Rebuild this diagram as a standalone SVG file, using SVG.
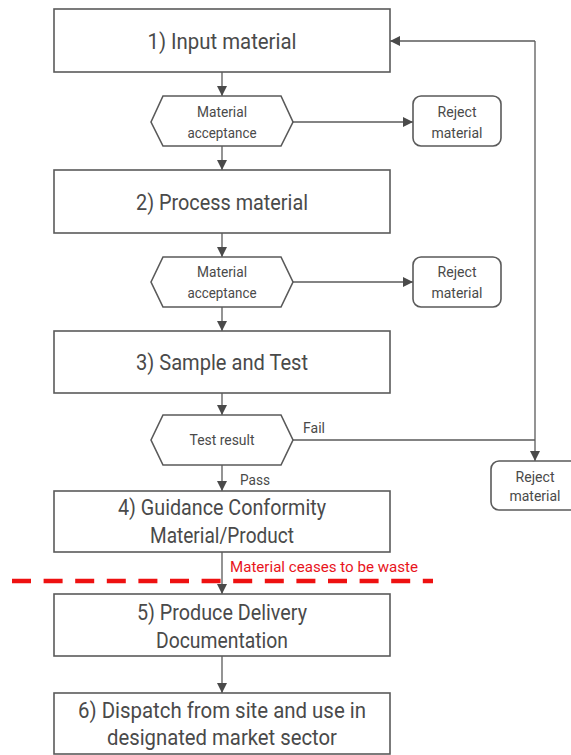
<svg xmlns="http://www.w3.org/2000/svg" width="571" height="755" viewBox="0 0 571 755">
<defs>
<style>
.box{fill:#fff;stroke:#5a5a5a;stroke-width:1.6}
.rej{fill:#fff;stroke:#5a5a5a;stroke-width:1.6}
.big{font-family:Roboto,"Liberation Sans",sans-serif;font-size:22px;fill:#4a4a4a;text-anchor:middle}
.sm{font-family:Roboto,"Liberation Sans",sans-serif;font-size:14.5px;fill:#4a4a4a;text-anchor:middle}
.lbl{font-family:Roboto,"Liberation Sans",sans-serif;font-size:15px;fill:#4a4a4a}
.red{font-family:Roboto,"Liberation Sans",sans-serif;font-size:15.5px;fill:#e8141c}
.con{fill:none;stroke:#5a5a5a;stroke-width:1.3}
</style>
<marker id="ah" viewBox="0 0 10 10" refX="10" refY="5" markerWidth="10" markerHeight="10" markerUnits="userSpaceOnUse" orient="auto">
<path d="M0,0 L10,5 L0,10 z" fill="#4a4a4a"/>
</marker>
</defs>

<g id="connectors">
<line class="con" x1="222" y1="72" x2="222" y2="96" marker-end="url(#ah)"/>
<line class="con" x1="222" y1="146" x2="222" y2="170" marker-end="url(#ah)"/>
<line class="con" x1="222" y1="233" x2="222" y2="257" marker-end="url(#ah)"/>
<line class="con" x1="222" y1="307" x2="222" y2="331" marker-end="url(#ah)"/>
<line class="con" x1="222" y1="393" x2="222" y2="415" marker-end="url(#ah)"/>
<line class="con" x1="222" y1="465" x2="222" y2="491" marker-end="url(#ah)"/>
<line class="con" x1="222" y1="552" x2="222" y2="594" marker-end="url(#ah)"/>
<line class="con" x1="222" y1="656" x2="222" y2="693" marker-end="url(#ah)"/>
<line class="con" x1="293" y1="122" x2="413" y2="122" marker-end="url(#ah)"/>
<line class="con" x1="293" y1="282" x2="413" y2="282" marker-end="url(#ah)"/>
<polyline class="con" points="293,440 535,440"/>
<line class="con" x1="535" y1="41" x2="535" y2="461" marker-end="url(#ah)"/>
<line class="con" x1="535" y1="41" x2="390" y2="41" marker-end="url(#ah)"/>
<text class="lbl" x="303" y="433" textLength="22" lengthAdjust="spacingAndGlyphs">Fail</text>
<text class="lbl" x="240" y="485" textLength="30" lengthAdjust="spacingAndGlyphs">Pass</text>
</g>

<g id="n1"><rect class="box" x="54" y="9" width="336" height="63"/><text class="big" x="222" y="49" textLength="149" lengthAdjust="spacingAndGlyphs">1) Input material</text></g>
<g id="d1"><polygon class="box" points="151,122 163,96 281,96 293,122 281,146 163,146"/><text class="sm" x="222" y="117" textLength="50" lengthAdjust="spacingAndGlyphs">Material</text><text class="sm" x="222" y="138" textLength="69" lengthAdjust="spacingAndGlyphs">acceptance</text></g>
<g id="r1"><rect class="rej" x="413" y="96" width="88" height="50" rx="8"/><text class="sm" x="457" y="117" textLength="39" lengthAdjust="spacingAndGlyphs">Reject</text><text class="sm" x="457" y="138" textLength="51" lengthAdjust="spacingAndGlyphs">material</text></g>

<g id="n2"><rect class="box" x="54" y="170" width="336" height="63"/><text class="big" x="222" y="210" textLength="172" lengthAdjust="spacingAndGlyphs">2) Process material</text></g>
<g id="d2"><polygon class="box" points="151,282 163,257 281,257 293,282 281,307 163,307"/><text class="sm" x="222" y="277" textLength="50" lengthAdjust="spacingAndGlyphs">Material</text><text class="sm" x="222" y="298" textLength="69" lengthAdjust="spacingAndGlyphs">acceptance</text></g>
<g id="r2"><rect class="rej" x="413" y="257" width="88" height="50" rx="8"/><text class="sm" x="457" y="277" textLength="39" lengthAdjust="spacingAndGlyphs">Reject</text><text class="sm" x="457" y="298" textLength="51" lengthAdjust="spacingAndGlyphs">material</text></g>

<g id="n3"><rect class="box" x="54" y="331" width="336" height="62"/><text class="big" x="222" y="370" textLength="172" lengthAdjust="spacingAndGlyphs">3) Sample and Test</text></g>
<g id="d3"><polygon class="box" points="151,440 163,415 281,415 293,440 281,465 163,465"/><text class="sm" x="222" y="445" textLength="65" lengthAdjust="spacingAndGlyphs">Test result</text></g>
<g id="r3"><rect class="rej" x="491" y="461" width="88" height="49" rx="8"/><text class="sm" x="535" y="482" textLength="39" lengthAdjust="spacingAndGlyphs">Reject</text><text class="sm" x="535" y="501" textLength="51" lengthAdjust="spacingAndGlyphs">material</text></g>

<g id="n4"><rect class="box" x="54" y="491" width="336" height="61"/><text class="big" x="222" y="515" textLength="208" lengthAdjust="spacingAndGlyphs">4) Guidance Conformity</text><text class="big" x="222" y="543" textLength="144" lengthAdjust="spacingAndGlyphs">Material/Product</text></g>

<g id="waste">
<line x1="12" y1="581" x2="433" y2="581" stroke="#ee1111" stroke-width="4.5" stroke-dasharray="19,12.6"/>
<text class="red" x="230" y="572" textLength="188" lengthAdjust="spacingAndGlyphs">Material ceases to be waste</text>
</g>

<g id="n5"><rect class="box" x="54" y="594" width="336" height="62"/><text class="big" x="222" y="620" textLength="170" lengthAdjust="spacingAndGlyphs">5) Produce Delivery</text><text class="big" x="222" y="648" textLength="132" lengthAdjust="spacingAndGlyphs">Documentation</text></g>

<g id="n6"><rect class="box" x="54" y="693" width="336" height="61"/><text class="big" x="222" y="718" textLength="288" lengthAdjust="spacingAndGlyphs">6) Dispatch from site and use in</text><text class="big" x="222" y="745" textLength="230" lengthAdjust="spacingAndGlyphs">designated market sector</text></g>
</svg>
